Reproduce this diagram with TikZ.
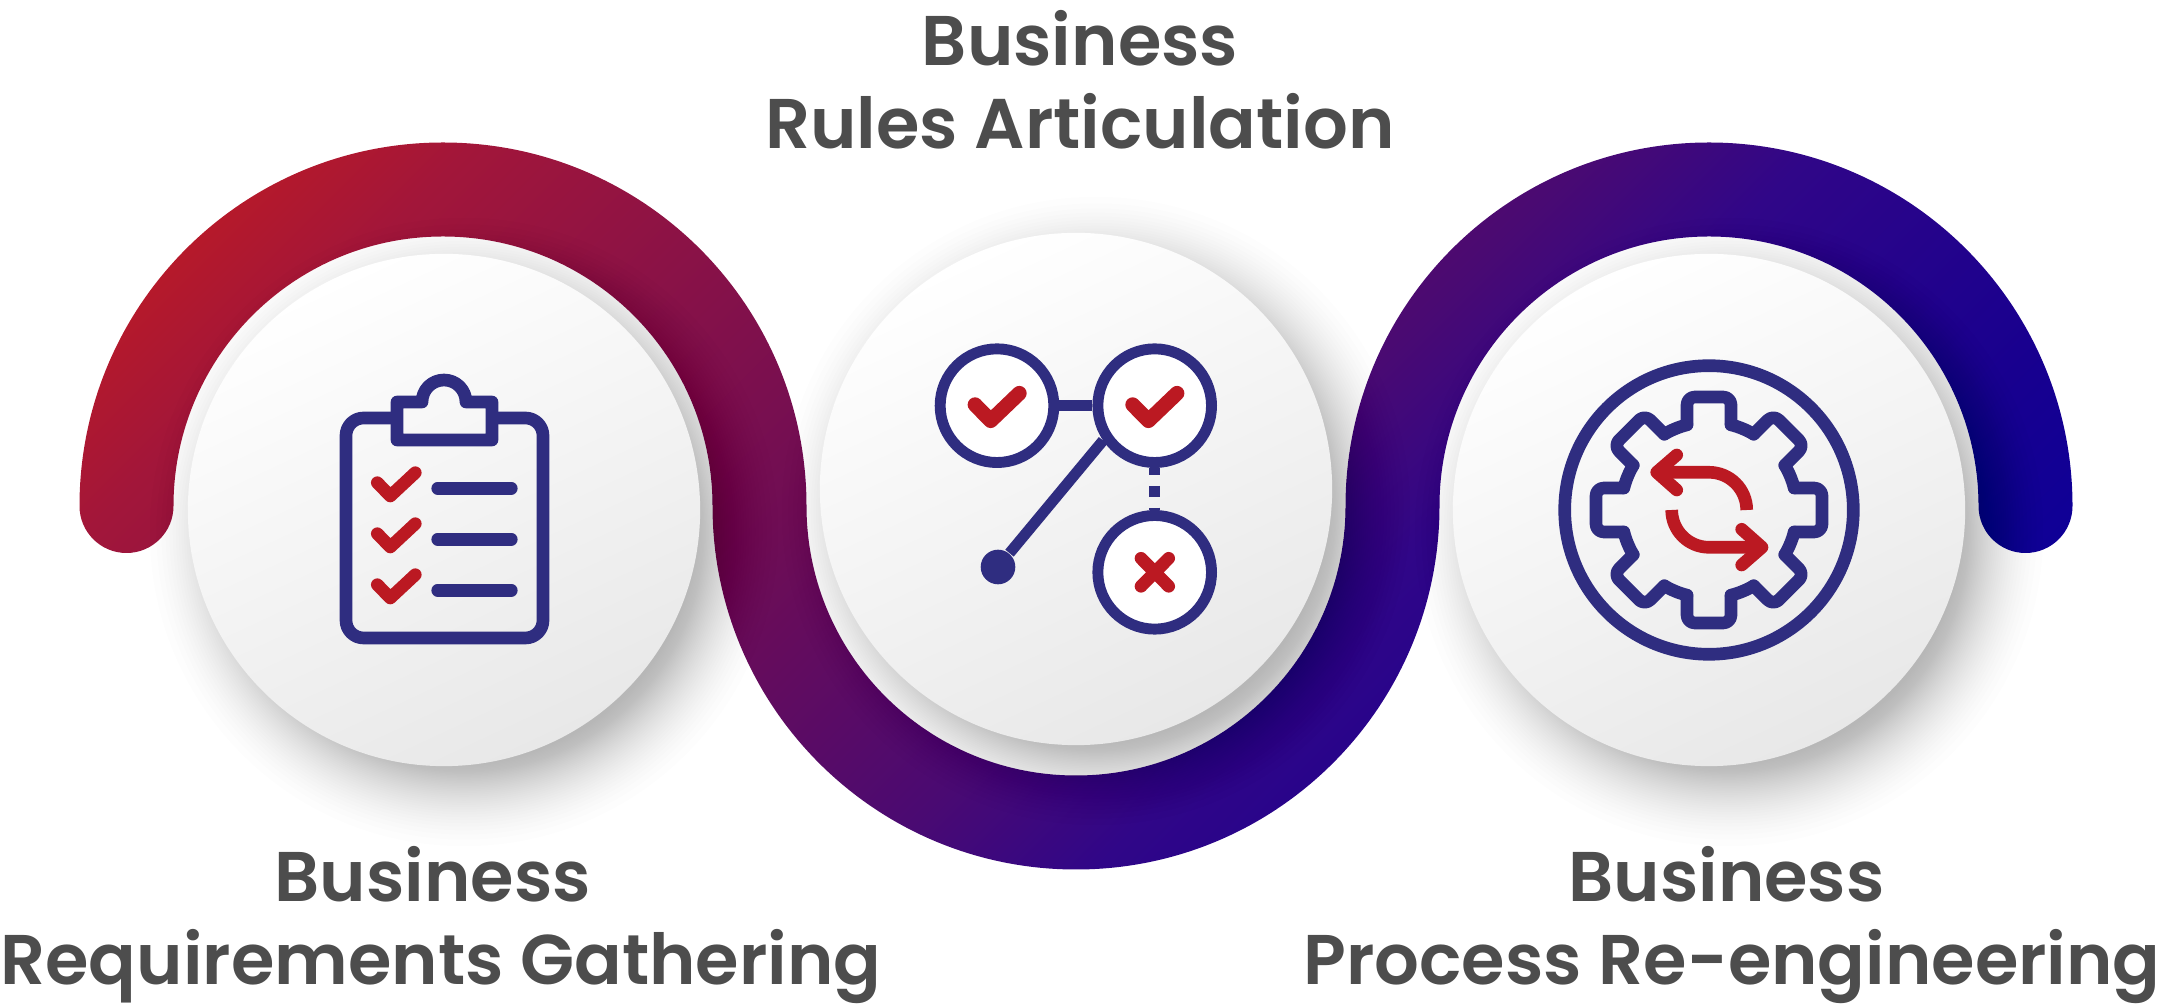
\documentclass[tikz,border=0pt]{standalone}
\usepackage{fontspec}
\setmainfont{Poppins}[BoldFont=* SemiBold]
\usepackage{xcolor}
\usetikzlibrary{positioning,calc}

\definecolor{iconblue}{HTML}{2F2D80}
\definecolor{iconred}{HTML}{BB1922}
\definecolor{titlegrey}{HTML}{4D4D4D}
\definecolor{discgrey}{HTML}{E8E8E8}
\definecolor{rib0}{HTML}{BC1A25}
\definecolor{rib1}{HTML}{A2163A}
\definecolor{rib2}{HTML}{6E0D55}
\definecolor{rib3}{HTML}{4A0A72}
\definecolor{rib4}{HTML}{300688}
\definecolor{rib5}{HTML}{18008F}
\definecolor{rib6}{HTML}{06009E}
\pgfdeclarehorizontalshading{ribbongrad}{100bp}{
  color(0bp)=(rib0); color(18.4bp)=(rib0); color(24.8bp)=(rib1); color(43bp)=(rib2);
  color(54bp)=(rib3); color(60bp)=(rib4); color(71bp)=(rib5); color(82bp)=(rib6); color(100bp)=(rib6)}

\begin{document}
\begin{tikzpicture}[
    x=0.01cm, y=-0.01cm,
    heading/.style  = {font=\fontsize{20}{23.7}\selectfont\bfseries, text=titlegrey, align=center, inner sep=0pt},
    disc/.style     = {circle, minimum size=5.12cm, inner sep=0pt, shade, top color=white, bottom color=discgrey, shading angle=25},
    blur/.style     = {black, opacity=0.0095},
    iconline/.style = {draw=iconblue, line width=3.6pt, line join=round},
    redline/.style  = {draw=iconred, line width=3.6pt, line cap=round, line join=round},
    listbar/.style  = {iconline, line cap=round},
    pick/.style     = {circle, draw=iconblue, fill=white, line width=3.1pt, inner sep=0pt, minimum size=1.136cm},
    tie/.style      = {draw=iconblue, line width=3.1pt},
]
\useasboundingbox (0,0) rectangle (2163,1004);

%======== RIBBON ========
\shade[shading=ribbongrad, shading angle=-45]
    (79.5,506) arc[start angle=180, end angle=360, radius=363.5]
    arc[start angle=180, end angle=0, radius=269.5]
    arc[start angle=180, end angle=360, radius=363.5]
    arc[start angle=0, end angle=180, radius=47]
    arc[start angle=0, end angle=-180, radius=269.5]
    arc[start angle=0, end angle=180, radius=363.5]
    arc[start angle=0, end angle=-180, radius=269.5]
    arc[start angle=0, end angle=180, radius=47] -- cycle;

%======== DISCS ========
\foreach \cx/\cy in {444/510, 1076/489, 1709/510}
  \foreach \i in {1,...,40}
    \fill[blur] (\cx+20,\cy+22) circle[radius={330-100*sqrt(\i/40)}];

\node[disc] (reqdisc)  at (444,510) {};
\node[disc] (ruledisc) at (1076,489) {};
\node[disc] (procdisc) at (1709,510) {};

%======== LEFT: clipboard ========
\draw[iconline, rounded corners=5pt] (397,418) -- (346,418) -- (346,638) -- (543,638) -- (543,418) -- (492,418);
\draw[iconline] (397,402) -- (422,402) arc[start angle=180, end angle=360, radius=22] -- (492,402) -- (492,440) -- (397,440) -- cycle;
\foreach \y in {0,51,102} {
  \draw[redline] (377.3,482.7+\y) -- (390.3,496+\y) -- (415.3,472.7+\y);
  \draw[listbar] (437.7,488.3+\y) -- (511.3,488.3+\y);
}

%======== MIDDLE: decision links ========
\node[pick] (okleft)  at (997,405.7) {};
\node[pick] (okright) at (1154.7,405.7) {};
\node[pick] (nogo)    at (1154.7,572.3) {};
\node[circle, fill=iconblue, minimum size=0.346cm, inner sep=0pt] (startdot) at (998,567) {};
\draw[tie] (okleft) -- (okright);
\draw[tie] (startdot) -- (okright.214);
\draw[tie, dash pattern=on 2pt off 3.1pt on 3.1pt off 3.1pt on 1.2pt] (okright) -- (nogo);
\foreach \x in {0,157.7}
  \draw[redline, line width=4.2pt] (975+\x,404.7) -- (990.7+\x,420.7) -- (1019.3+\x,393.3);
\draw[redline] (1141,558.3) -- (1168.7,586.3) (1168.7,558.3) -- (1141,586.3);

%======== RIGHT: gear ========
\begin{scope}[shift={(1709,510)}]
\draw[iconline] (0,0) circle[radius=144.3];
\foreach \a in {0,45,...,315} {
  \draw[listbar, rounded corners=2.2pt] (\a-14.5:88) -- (\a-11:115.1) -- (\a+11:115.1) -- (\a+14.5:88);
  \draw[listbar] (\a+14.5:88) arc[start angle=\a+14.5, end angle=\a+30.5, radius=88];
}
\draw[draw=iconred, line width=3.6pt] (37.7,0) arc[start angle=0, end angle=-90, radius=37.7] -- (-50,-37.7);
\draw[redline] (-32.3,-55) -- (-52.3,-37.7) -- (-32.3,-20);
\draw[draw=iconred, line width=3.6pt] (-37.3,0) arc[start angle=180, end angle=90, radius=37.3] -- (50,37.3);
\draw[redline] (32.7,19.3) -- (53,37.3) -- (32.7,55);
\end{scope}

%======== LABELS ========
\node[heading] (rulelabel) at (1080,80) {Business\\Rules Articulation};
\node[heading] (reqlabel)  at (441,925) {Business\hspace*{0.166cm}\\Requirements Gathering};
\node[heading] (proclabel) at (1732,925) {Business\hspace*{0.11cm}\\Process Re-engineering};

\end{tikzpicture}
\end{document}
